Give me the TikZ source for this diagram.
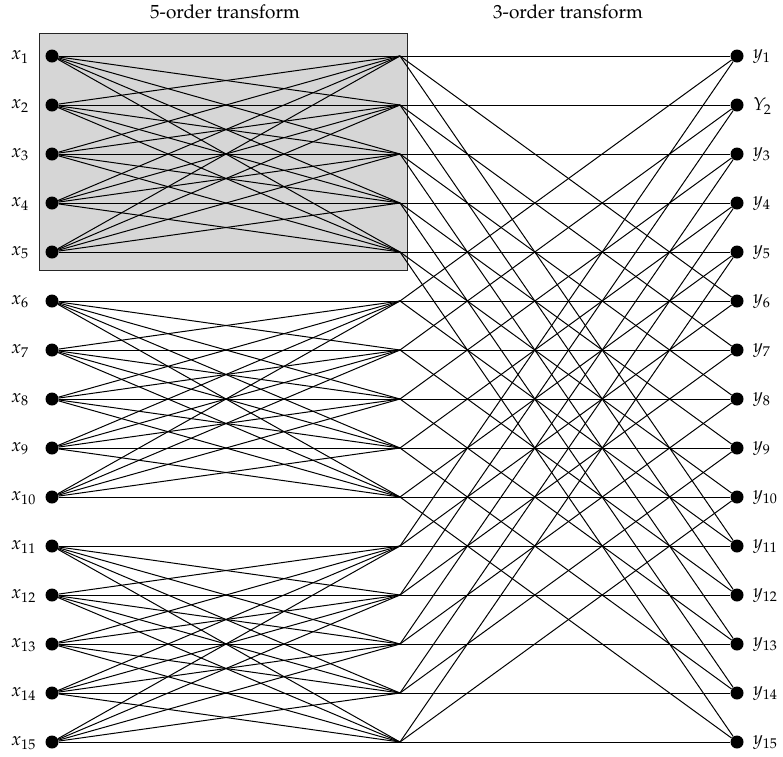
\documentclass[tikz,border=0pt]{standalone}
\usepackage[T1]{fontenc}
\usepackage{mathpazo}
\tikzset{
  dot/.style={circle,fill=black,inner sep=0pt,minimum size=13pt},
  wire/.style={line width=1pt,black},
  lbl/.style={inner sep=0pt,font=\fontsize{18.5}{22}\selectfont},
  ttl/.style={inner sep=0pt,font=\fontsize{19}{22}\selectfont},
  grp/.style={fill=black!16,draw=black!85,line width=1pt}
}
\begin{document}
\begin{tikzpicture}[x=1pt,y=-1pt]
\useasboundingbox (0,0) rectangle (783,756);
\draw[grp] (39,33) rectangle (407,270);
\node[ttl] (t5) at (225,12) {5-order transform};
\node[ttl] (t3) at (568,12) {3-order transform};
\foreach \i in {1,...,15}{
  \pgfmathsetmacro{\yy}{56+(\i-1)*49}
  \node[dot] (x\i) at (52,\yy) {};
  \coordinate (m\i) at (400,\yy);
  \node[dot] (y\i) at (737,\yy) {};
  \node[lbl,anchor=west] (lx\i) at (11,\yy+1) {$x_{\i}$};
}
\foreach \i in {1,3,4,5,6,7,8,9,10,11,12,13,14,15}{
  \node[lbl,anchor=west] (ly\i) at (753,56+\i*49-48) {$y_{\i}$};
}
\node[lbl,anchor=west] (ly2) at (753,106) {$Y_{2}$};
% 5-order transforms
\foreach \g in {0,5,10}{
  \foreach \a in {1,...,5}{
    \foreach \b in {1,...,5}{
      \pgfmathtruncatemacro{\p}{\g+\a}
      \pgfmathtruncatemacro{\q}{\g+\b}
      \draw[wire] (x\p) -- (m\q);
    }
  }
}
% 3-order transforms
\foreach \k in {1,...,5}{
  \foreach \a in {0,5,10}{
    \foreach \b in {0,5,10}{
      \pgfmathtruncatemacro{\p}{\k+\a}
      \pgfmathtruncatemacro{\q}{\k+\b}
      \draw[wire] (m\p) -- (y\q);
    }
  }
}
\end{tikzpicture}
\end{document}
